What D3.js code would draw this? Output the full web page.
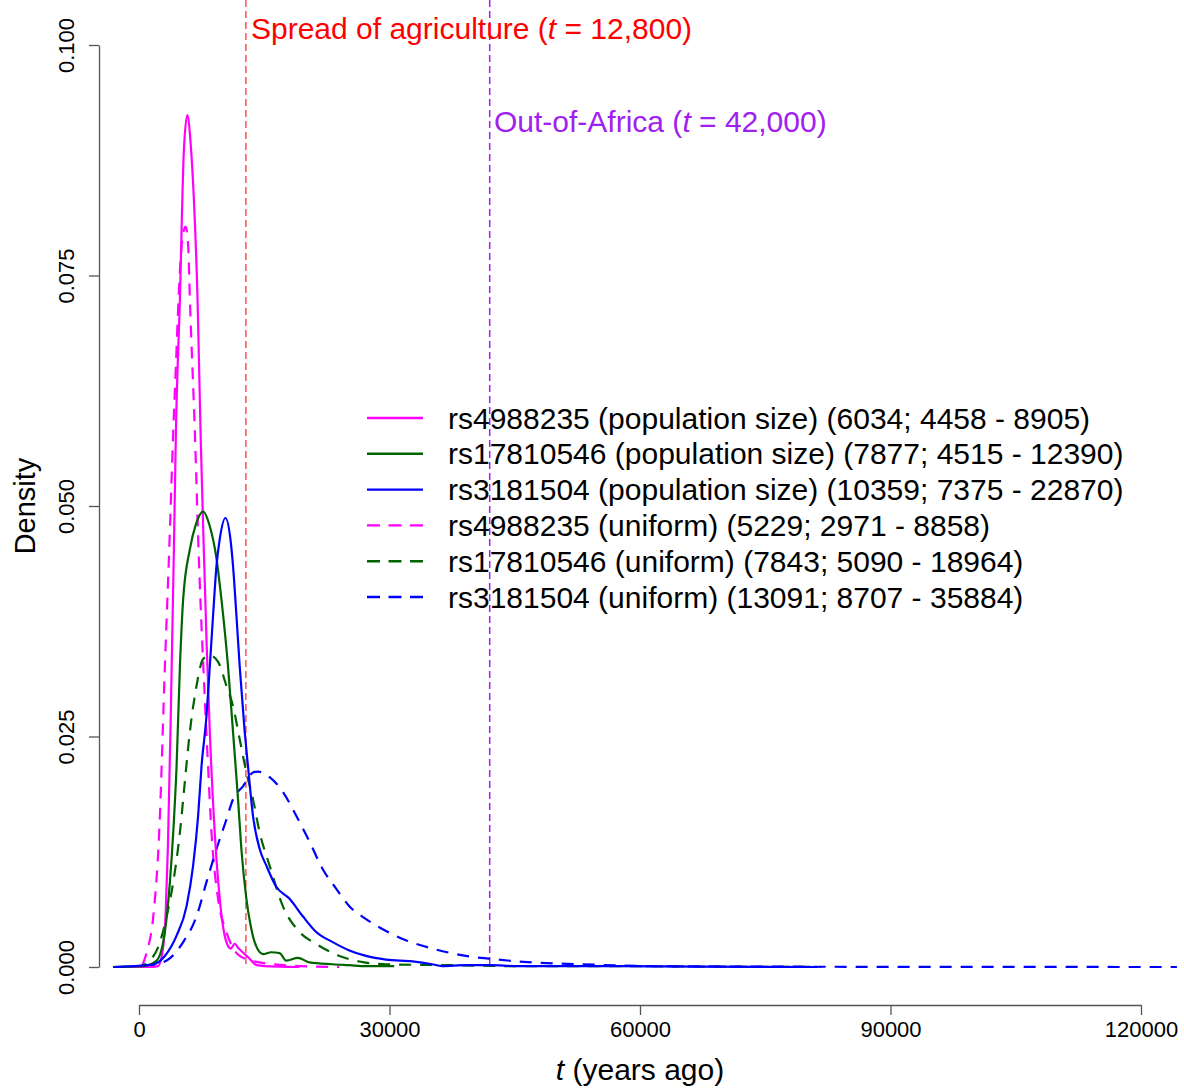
<!DOCTYPE html>
<html>
<head>
<meta charset="utf-8">
<script src="https://cdn.jsdelivr.net/npm/d3@7/dist/d3.min.js"></script>
<style>
  html, body { margin: 0; padding: 0; background: #fff; }
  svg { display: block; font-family: "Liberation Sans", Arial, sans-serif; }
</style>
</head>
<body>
<svg id="chart" width="1184" height="1088"></svg>
<script>
// ---------- DATA ----------
const xTicks = [0, 30000, 60000, 90000, 120000];
const xTickLabels = ["0", "30000", "60000", "90000", "120000"];
const yTicks = [0, 0.025, 0.05, 0.075, 0.1];
const yTickLabels = ["0.000", "0.025", "0.050", "0.075", "0.100"];

const seriesNames = [
  "rs4988235 (population size) (6034; 4458 - 8905)",
  "rs17810546 (population size) (7877; 4515 - 12390)",
  "rs3181504 (population size) (10359; 7375 - 22870)",
  "rs4988235 (uniform) (5229; 2971 - 8858)",
  "rs17810546 (uniform) (7843; 5090 - 18964)",
  "rs3181504 (uniform) (13091; 8707 - 35884)"
];
const seriesColors = ["#ff00ff", "#006400", "#0000ff", "#ff00ff", "#006400", "#0000ff"];
const seriesDashed = [false, false, false, true, true, true];

// [t (years ago), density]
const magPop = [[-3100,0],[1300,0],[2270,0.0001],[2870,0.002],[3200,0.006],[3460,0.013],[3820,0.028],[4180,0.0453],
  [4420,0.058],[4900,0.0725],[5370,0.0885],[5790,0.0924],[6210,0.089],[6570,0.0833],[7010,0.0725],[7370,0.058],
  [7760,0.0453],[8120,0.0345],[8480,0.0255],[9070,0.0146],[9670,0.0074],[10470,0.0027],[10990,0.002],
  [11460,0.0025],[11940,0.002],[12420,0.0016],[13250,0.0009],[14090,0.0002],[15050,0.0001],[19200,0]];
const grnPop = [[-3100,0],[480,0.0001],[2110,0.0007],[3100,0.0038],[3700,0.0092],[4100,0.0146],[4500,0.0218],
  [4900,0.0326],[5290,0.0399],[6090,0.0453],[6810,0.048],[7680,0.0494],[8480,0.0478],[9280,0.0443],[9870,0.0399],
  [10660,0.0326],[11260,0.0255],[11860,0.0182],[12260,0.0128],[12860,0.0074],[13370,0.0045],[13850,0.0027],
  [14840,0.0014],[15840,0.0016],[16840,0.0015],[17640,0.0007],[19020,0.001],[20420,0.0005],[23160,0.0003],
  [25190,0.0002],[27190,0.0001],[30570,0.0001]];
const bluPop = [[-3100,0],[-720,0.0001],[1710,0.0003],[3100,0.0012],[4500,0.0034],[5700,0.0066],[6480,0.011],
  [7080,0.0164],[7490,0.0218],[8080,0.0272],[8480,0.0326],[8870,0.0381],[9280,0.0435],[9670,0.0464],[10350,0.0487],
  [10950,0.0464],[11260,0.0435],[11670,0.0381],[12060,0.0326],[12660,0.0255],[13050,0.0218],[13650,0.0164],
  [14450,0.0128],[15250,0.011],[16440,0.0087],[18030,0.0074],[19620,0.0055],[21220,0.0038],[23200,0.0027],
  [25190,0.0018],[27190,0.0012],[29580,0.0008],[32750,0.0006],[35100,0.0003],[36300,0.0001],[39130,0.0002],
  [41910,0.0002],[45490,0.0001],[55040,0.0001],[67000,0.00005],[81300,0]];
const magUni = [[-2000,0],[120,0],[920,0.0016],[1710,0.0055],[2420,0.0146],[3100,0.0326],[3620,0.0453],[4100,0.058],
  [4420,0.0652],[4740,0.0725],[5100,0.0782],[5580,0.0803],[5890,0.0782],[6090,0.0725],[6690,0.058],[7130,0.0453],
  [7880,0.0291],[8270,0.0218],[8680,0.0146],[9470,0.0074],[10470,0.0038],[12060,0.0012],[14450,0.0005],
  [19220,0.0001],[24000,0]];
const grnUni = [[-3000,0],[120,0.0001],[1310,0.0007],[2510,0.0027],[3310,0.0055],[4100,0.0092],[4900,0.0146],
  [5490,0.0201],[6090,0.0255],[6890,0.0305],[7680,0.0334],[8480,0.0338],[9470,0.0331],[10470,0.0305],[11260,0.0283],
  [12060,0.0247],[12860,0.0211],[13650,0.0182],[14450,0.0146],[15640,0.011],[17230,0.0066],[19220,0.0038],
  [21220,0.0025],[24000,0.0012],[26390,0.0006],[29580,0.0003],[37130,0.0002],[45130,0.0001],[55040,0.0001],
  [67000,0.00005],[81700,0]];
const bluUni = [[-2000,0],[920,0.0001],[3310,0.0007],[5290,0.0027],[6890,0.0055],[8080,0.0092],[9280,0.0128],
  [10470,0.016],[11260,0.0182],[12450,0.0196],[13650,0.0211],[14240,0.0212],[15640,0.0206],[17230,0.019],
  [18830,0.0164],[20420,0.0136],[22010,0.0106],[23610,0.0085],[25190,0.0066],[27190,0.0052],[29580,0.0039],
  [31960,0.0029],[35140,0.002],[39130,0.0012],[41910,0.0009],[47040,0.0005],[53010,0.0003],[61010,0.0001],
  [78920,0.00003],[124300,0]];
const seriesData = [magPop, grnPop, bluPop, magUni, grnUni, bluUni];

const events = [
  { t: 12800, label: "Spread of agriculture", value: "12,800", color: "#ff0000", lineColor: "#ff5252" },
  { t: 42000, label: "Out-of-Africa", value: "42,000", color: "#a020f0", lineColor: "#a020f0" }
];

// ---------- CHART ----------
const svg = d3.select("#chart");
const x = d3.scaleLinear().domain([0, 120000]).range([139, 1141]);
const y = d3.scaleLinear().domain([0, 0.1]).range([967, 45]);

// Axes
const xAxis = d3.axisBottom(x).tickValues(xTicks)
  .tickFormat((d, i) => xTickLabels[i]).tickSizeOuter(0).tickSizeInner(10).tickPadding(6);
const gx = svg.append("g").attr("transform", "translate(0,1005)").call(xAxis);
gx.select(".domain").attr("stroke", "#555").attr("stroke-width", 1.3);
gx.selectAll(".tick line").attr("stroke", "#555").attr("stroke-width", 1.3);
gx.selectAll(".tick text").attr("font-size", 22).attr("fill", "#000")
  .attr("font-family", "Liberation Sans, Arial, sans-serif");

const yAxis = d3.axisLeft(y).tickValues(yTicks)
  .tickFormat((d, i) => yTickLabels[i]).tickSizeOuter(0).tickSizeInner(10).tickPadding(6);
const gy = svg.append("g").attr("transform", "translate(99,0)").call(yAxis);
gy.select(".domain").attr("stroke", "#555").attr("stroke-width", 1.3);
gy.selectAll(".tick line").attr("stroke", "#555").attr("stroke-width", 1.3);
gy.selectAll(".tick text").attr("font-size", 22).attr("fill", "#000")
  .attr("font-family", "Liberation Sans, Arial, sans-serif")
  .attr("text-anchor", "middle").attr("transform", "rotate(-90)")
  .attr("x", 0).attr("y", -25).attr("dy", 0);

// Axis titles
const xTitle = svg.append("text").attr("x", 640).attr("y", 1080).attr("text-anchor", "middle")
  .attr("font-size", 30).attr("fill", "#000");
xTitle.append("tspan").attr("font-style", "italic").text("t");
xTitle.append("tspan").text(" (years ago)");

svg.append("text").attr("transform", "translate(35,506) rotate(-90)").attr("text-anchor", "middle")
  .attr("font-size", 29).attr("fill", "#000").text("Density");

// Event lines
events.forEach(ev => {
  svg.append("line").attr("x1", x(ev.t)).attr("x2", x(ev.t)).attr("y1", 0).attr("y2", 967)
    .attr("stroke", ev.lineColor).attr("stroke-width", 1.5).attr("stroke-dasharray", "7,4");
});

// Density curves
const line = d3.line().x(d => x(d[0])).y(d => y(d[1])).curve(d3.curveMonotoneX);
[3, 4, 5, 0, 1, 2].forEach(i => {
  svg.append("path").datum(seriesData[i]).attr("d", line)
    .attr("fill", "none").attr("stroke", seriesColors[i]).attr("stroke-width", 2.2)
    .attr("stroke-dasharray", seriesDashed[i] ? "12,9" : null)
    .attr("stroke-linejoin", "round");
});

// Event labels
const evPos = [{ x: 251, y: 39 }, { x: 494, y: 132 }];
events.forEach((ev, i) => {
  const t = svg.append("text").attr("x", evPos[i].x).attr("y", evPos[i].y)
    .attr("font-size", 30).attr("fill", ev.color);
  t.append("tspan").text(ev.label + " (");
  t.append("tspan").attr("font-style", "italic").text("t");
  t.append("tspan").text(" = " + ev.value + ")");
});

// Legend
const legend = svg.append("g");
seriesNames.forEach((name, i) => {
  const yy = 418 + i * 35.8;
  legend.append("line").attr("x1", 367).attr("x2", 423).attr("y1", yy).attr("y2", yy)
    .attr("stroke", seriesColors[i]).attr("stroke-width", 2.4)
    .attr("stroke-dasharray", seriesDashed[i] ? "13,8.5" : null);
  legend.append("text").attr("x", 448).attr("y", yy + 10.5).attr("font-size", 30)
    .attr("fill", "#000").text(name);
});
</script>
</body>
</html>
